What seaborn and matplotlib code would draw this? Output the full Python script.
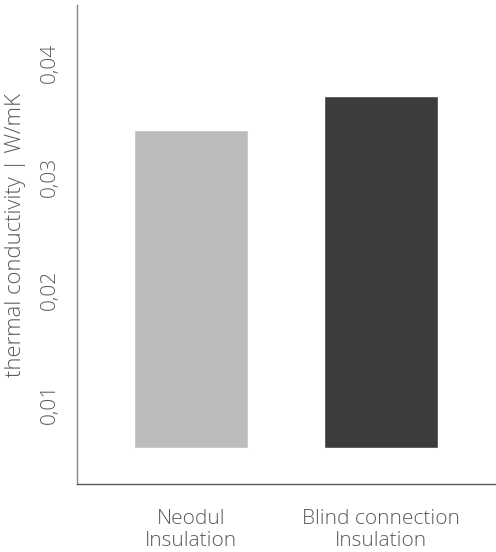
import matplotlib
matplotlib.use("Agg")
import matplotlib.pyplot as plt
import matplotlib.transforms as mtransforms
import seaborn as sns
import pandas as pd
from matplotlib.ticker import FuncFormatter

categories = ["Neodul\nInsulation", "Blind connection\nInsulation"]
values = [0.035, 0.038]
bar_bottom = 0.007
colors = ["#bcbcbc", "#3c3c3b"]
yticks = [0.01, 0.02, 0.03, 0.04]

sns.set_theme(style="white")
plt.rcParams["font.family"] = ["Open Sans", "DejaVu Sans"]

df = pd.DataFrame({"cat": categories, "val": [v - bar_bottom for v in values]})

fig = plt.figure(figsize=(4.96, 5.52), dpi=100)
ax = fig.add_axes([0.155, 0.123, 0.843, 0.868])
sns.barplot(data=df, x="cat", y="val", hue="cat", palette=colors, dodge=False,
            width=0.6, bottom=bar_bottom, ax=ax, legend=False, saturation=1)

ax.set_xlim(-0.6, 1.6)
ax.set_ylim(0.0038, 0.046)
ax.set_yticks(yticks)
ax.yaxis.set_major_formatter(FuncFormatter(lambda v, p: f"{v:.2f}".replace(".", ",")))
ax.tick_params(axis="y", length=0, pad=12)
ax.tick_params(axis="x", length=0, pad=18)
tc = "#5a5a5a"
fs = 15
shift = mtransforms.ScaledTranslation(0, 10 / 100, fig.dpi_scale_trans)
for lab in ax.get_yticklabels():
    lab.set_rotation(90)
    lab.set_va("center")
    lab.set_fontsize(fs)
    lab.set_color(tc)
    lab.set_fontweight("light")
    lab.set_transform(lab.get_transform() + shift)
for lab in ax.get_xticklabels():
    lab.set_fontsize(fs)
    lab.set_color(tc)
    lab.set_fontweight("light")
    lab.set_linespacing(1.1)
ax.set_xlabel("")
ax.set_ylabel("thermal conductivity | W/mK", fontsize=15.8, color=tc, fontweight="light")
ax.yaxis.set_label_coords(-0.122, 0.52)

sns.despine(ax=ax)
ax.spines["left"].set_color("#888888")
ax.spines["bottom"].set_color("#555555")
ax.spines["left"].set_linewidth(1.0)
ax.spines["bottom"].set_linewidth(1.0)

fig.savefig("out.png", dpi=100)
